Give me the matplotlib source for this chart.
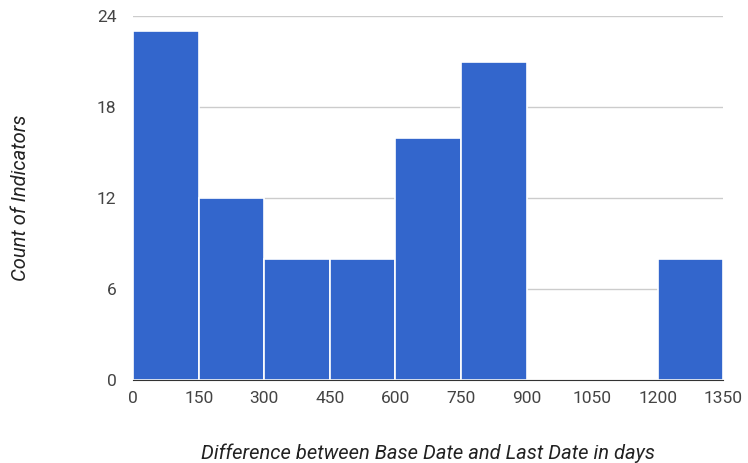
import numpy as np
import matplotlib.pyplot as plt

# histogram bins (days) and counts
bin_edges = [0, 150, 300, 450, 600, 750, 900, 1050, 1200, 1350]
counts = [23, 12, 8, 8, 16, 21, 0, 0, 8]
y_ticks = [0, 6, 12, 18, 24]

plt.rcParams['font.family'] = ['Roboto', 'DejaVu Sans']

fig = plt.figure(figsize=(7.48, 4.63), dpi=100)
ax = fig.add_axes([0.178, 0.179, 0.789, 0.786])

ax.bar(bin_edges[:-1], counts, width=np.diff(bin_edges), align='edge',
       color='#3366cc', edgecolor='white', linewidth=1.2, zorder=2)

ax.set_xlim(bin_edges[0], bin_edges[-1])
ax.set_ylim(0, 24)
ax.set_xticks(bin_edges)
ax.set_yticks(y_ticks)
ax.grid(axis='y', color='#cccccc', linewidth=1, zorder=0)
ax.tick_params(length=0, labelsize=12.5, labelcolor='#444444', pad=8)
ax.tick_params(axis='y', pad=12)

for s in ['top', 'right', 'left']:
    ax.spines[s].set_visible(False)
ax.spines['bottom'].set_color('#333333')
ax.spines['bottom'].set_zorder(3)

ax.set_xlabel('Difference between Base Date and Last Date in days', fontsize=14.5,
              style='italic', color='#222222', labelpad=27)
ax.set_ylabel('Count of Indicators', fontsize=14.5, style='italic',
              color='#222222', labelpad=48)

fig.savefig('out.png', dpi=100)
